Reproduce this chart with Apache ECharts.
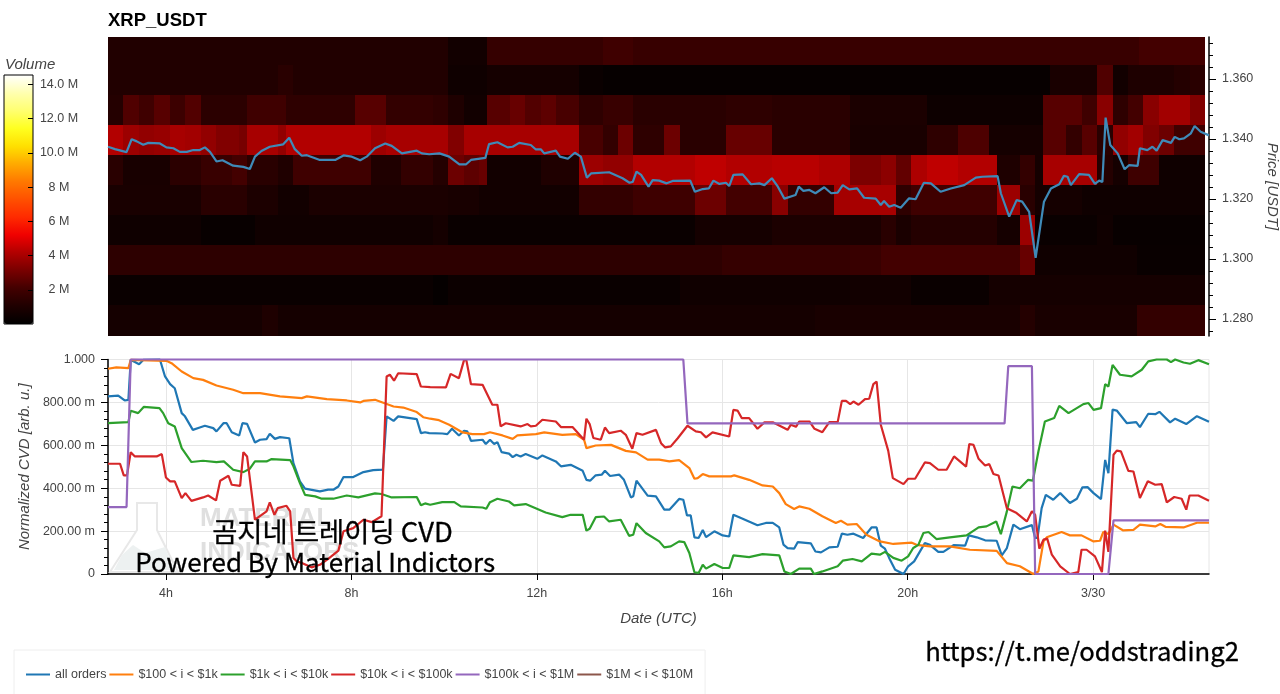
<!DOCTYPE html>
<html>
<head>
<meta charset="utf-8">
<title>XRP_USDT</title>
<script src="https://cdn.jsdelivr.net/npm/echarts@6/dist/echarts.min.js"></script>
<style>
html, body { margin: 0; padding: 0; background: #fff; }
#main { width: 1280px; height: 694px; }
</style>
</head>
<body>
<div id="main"></div>
<script>
// hours are counted from 00:00 UTC of 3/29, so 24 is the 3/30 tick
var hourTicks = [4, 8, 12, 16, 20, 24];
var priceTicks = [1.28, 1.30, 1.32, 1.34, 1.36];
var priceMinorTicks = [1.276, 1.284, 1.288, 1.292, 1.296, 1.304, 1.308, 1.312, 1.316, 1.324, 1.328, 1.332, 1.336, 1.344, 1.348, 1.352, 1.356, 1.364, 1.368, 1.372];
var volumeTicks = [2, 4, 6, 8, 10, 12, 14];
var volumeTickLabels = ['2 M', '4 M', '6 M', '8 M', '10.0 M', '12.0 M', '14.0 M'];
var volumePalette = ['#000000', '#1f0000', '#420000', '#780000', '#b00000', '#f00000', '#ff2a00', '#ff5000', '#ff7800', '#ffaa00', '#ffe000', '#ffff20', '#ffff70', '#ffffb0', '#ffffff'];

// bottom edge of each price band, lowest first
var priceBands = [1.2743, 1.2847, 1.2947, 1.3047, 1.3147, 1.3247, 1.3347, 1.3447, 1.3547, 1.3647];
var bandTop = 1.374;
var lastColumnEnd = 26.42;

// [start hour, volume in M] for each price band
var volBand0 = [[2.75,.7],[6.08,1],[6.42,.7],[18,.85],[22.42,1.2],[22.75,.85],[24.95,1.65]];
var volBand1 = [[2.75,.35],[9.75,.18],[10.08,.42],[11.42,.35],[15.08,.53],[18.75,.6],[20.08,.35],[21.75,.7]];
var volBand2 = [[2.75,1.45],[16,1.7],[18.75,1.8],[19.42,2.1],[22.42,2.8],[22.75,.55],[24.95,.3]];
var volBand3 = [[2.75,.5],[4.75,.27],[5.92,.55],[9.75,.7],[10.08,.35],[15.42,.7],[17.08,.95],[18.75,.9],[19.42,1.35],[19.75,.87],[20.08,1.2],[21.92,.7],[22.42,3.8],[22.75,.35],[24.08,.55],[24.42,.27]];
var volBand4 = [[2.75,.85],[4.75,1.35],[5.75,.95],[6.42,.6],[7.08,.9],[10.08,.8],[10.75,.6],[12.92,1.65],[14.08,1.98],[15.42,2.9],[16.08,2.1],[17.08,3.45],[17.42,1.65],[18.42,3.95],[18.75,4],[19.75,1.5],[20.08,2],[21.92,3.8],[22.42,1.35],[22.75,.7],[23.75,.5]];
var volBand5 = [[2.75,1.35],[3.08,.8],[4.08,1.4],[4.75,1.8],[5.42,2.1],[5.75,1.35],[6.42,1.05],[6.75,2],[8.42,1.05],[9.08,1.65],[9.75,1.2],[10.08,2.9],[10.42,2.6],[10.75,2.8],[10.92,.6],[12.08,1.05],[12.92,3.8],[13.42,3.6],[14.08,4.2],[15.42,4.4],[16.08,4.2],[17.08,4.3],[18.08,4.1],[18.75,3.2],[19.42,3.5],[19.75,2.7],[20.08,4.1],[20.42,4.4],[21.08,4.2],[21.92,1],[22.42,1.65],[22.75,.7],[22.92,4],[24.08,1.2],[24.42,.7],[24.75,1.98],[25.42,.5]];
var volBand6 = [[2.75,4.2],[3.08,3.8],[3.42,3.6],[3.75,3.7],[4.08,4],[4.42,3.9],[4.75,3.6],[5.08,3.3],[5.58,3.1],[5.75,4],[6.42,3.6],[6.58,4.2],[8.42,3.8],[8.75,4],[10.08,3.3],[10.42,4],[12,4],[12.92,2.2],[13.42,1.65],[13.75,2.9],[14.08,1.5],[14.75,2.9],[15.08,1.35],[16.08,2.8],[17.08,1.35],[18.75,.85],[20.42,1.5],[21.08,2.3],[21.75,.7],[22.92,2.5],[23.42,1.65],[23.75,2.5],[24.08,1.35],[24.42,3.6],[24.75,3.9],[25.08,3.3],[25.42,2.9],[25.75,2]];
var volBand7 = [[2.75,1.2],[3.08,2.35],[3.42,2],[3.75,2.5],[4.08,1.9],[4.42,2.4],[4.75,1.4],[5.75,2],[6.58,1.5],[8.08,2.5],[8.75,1.65],[9.75,1.5],[10.08,1],[10.42,.6],[10.92,2.5],[11.42,2.8],[11.75,2.4],[12.08,2.6],[12.42,2.2],[12.92,1.5],[13.42,1.8],[14.08,1.35],[16.08,1.5],[17.08,1.35],[18.75,.9],[20.42,.45],[22.92,2.5],[23.75,2],[24.08,3.45],[24.42,1.5],[24.75,2.1],[25.08,3.45],[25.42,3.9],[26.08,3.3]];
var volBand8 = [[2.75,1.1],[6.42,1.35],[6.75,1.1],[10.08,.5],[10.92,.7],[12.92,.35],[13.42,.2],[18.75,.25],[23.08,.85],[24.08,2.35],[24.42,.6],[24.75,1],[25.75,1.2],[26.08,1.35]];
var volBand9 = [[2.75,1.1],[10.08,.6],[10.92,1.7],[13.42,2],[14.08,1.75],[18.75,1.8],[25,2.1]];
var volBands = [volBand0, volBand1, volBand2, volBand3, volBand4, volBand5, volBand6, volBand7, volBand8, volBand9];

var priceLine = [[2.75,1.3374],[2.9,1.3366],[3.15,1.3356],[3.26,1.3399],[3.37,1.3392],[3.51,1.3381],[3.62,1.3387],[3.87,1.3385],[4.01,1.3372],[4.16,1.3369],[4.3,1.3357],[4.45,1.3357],[4.59,1.3363],[4.73,1.3363],[4.84,1.3372],[4.95,1.3357],[5.09,1.3325],[5.22,1.3329],[5.45,1.3311],[5.67,1.3307],[5.81,1.33],[5.92,1.3341],[6.06,1.336],[6.24,1.3374],[6.53,1.3382],[6.66,1.3404],[6.78,1.3366],[6.93,1.3344],[7.04,1.3346],[7.32,1.333],[7.65,1.333],[7.83,1.3345],[8.01,1.3341],[8.19,1.3329],[8.33,1.3341],[8.51,1.3369],[8.73,1.3385],[8.87,1.3377],[9.09,1.3352],[9.41,1.3361],[9.52,1.3352],[9.68,1.3349],[9.9,1.3352],[10.11,1.3341],[10.33,1.3315],[10.47,1.3315],[10.58,1.333],[10.89,1.3337],[10.97,1.3383],[11.15,1.3389],[11.37,1.3372],[11.48,1.3374],[11.62,1.3387],[11.87,1.338],[11.98,1.3365],[12.09,1.3365],[12.16,1.3352],[12.41,1.3361],[12.5,1.3341],[12.67,1.3334],[12.82,1.3354],[12.95,1.3341],[13.08,1.3271],[13.17,1.3285],[13.56,1.3289],[13.85,1.3269],[14,1.3254],[14.07,1.3257],[14.15,1.3291],[14.25,1.328],[14.41,1.3241],[14.5,1.3263],[14.64,1.3261],[14.8,1.3252],[14.93,1.326],[15.31,1.3261],[15.41,1.3224],[15.58,1.3233],[15.71,1.3235],[15.81,1.3261],[15.94,1.325],[16.08,1.3254],[16.15,1.3243],[16.24,1.328],[16.44,1.3282],[16.62,1.3249],[16.8,1.3252],[16.91,1.3246],[17.07,1.3269],[17.2,1.3241],[17.34,1.3201],[17.58,1.3213],[17.65,1.3241],[17.75,1.3227],[17.88,1.323],[18.01,1.3219],[18.2,1.3239],[18.35,1.3219],[18.49,1.3221],[18.6,1.3246],[18.74,1.3232],[18.91,1.3235],[19.06,1.3204],[19.31,1.3201],[19.42,1.318],[19.49,1.3193],[19.6,1.3174],[19.71,1.318],[19.85,1.3171],[20.03,1.3202],[20.17,1.3199],[20.35,1.3254],[20.5,1.3252],[20.71,1.3224],[20.93,1.3235],[21.22,1.3246],[21.47,1.3271],[21.61,1.3274],[21.94,1.3276],[22.01,1.3219],[22.19,1.3141],[22.35,1.3196],[22.47,1.3191],[22.62,1.3157],[22.76,1.3004],[22.94,1.3191],[23.09,1.3235],[23.27,1.3249],[23.37,1.3277],[23.45,1.3274],[23.52,1.3246],[23.7,1.3283],[23.91,1.328],[24.04,1.325],[24.13,1.3261],[24.2,1.3257],[24.27,1.3471],[24.37,1.338],[24.53,1.3352],[24.68,1.3299],[24.78,1.3313],[24.96,1.331],[25.01,1.3369],[25.17,1.3363],[25.28,1.3374],[25.37,1.3361],[25.5,1.3396],[25.68,1.3387],[25.76,1.3407],[25.86,1.3399],[25.96,1.3402],[26.11,1.3419],[26.19,1.3443],[26.32,1.3424],[26.5,1.3412]];

var allOrders = [[2.75,.828],[2.97,.832],[3.11,.809],[3.19,.812],[3.24,.998],[3.33,.988],[3.42,.978],[3.51,.998],[3.87,1],[3.98,.921],[4.09,.885],[4.19,.866],[4.34,.75],[4.41,.735],[4.58,.672],[4.73,.683],[4.84,.691],[5.02,.68],[5.09,.665],[5.24,.703],[5.31,.703],[5.42,.661],[5.58,.646],[5.65,.703],[5.75,.7],[5.92,.613],[6.03,.626],[6.17,.629],[6.24,.654],[6.35,.63],[6.46,.638],[6.66,.633],[6.75,.517],[6.89,.432],[7,.398],[7.32,.385],[7.5,.393],[7.61,.393],[7.72,.408],[7.83,.452],[8.04,.452],[8.26,.475],[8.47,.484],[8.68,.487],[8.76,.735],[8.91,.714],[9.01,.735],[9.41,.722],[9.5,.657],[9.59,.661],[9.68,.657],[9.96,.655],[10.07,.652],[10.17,.677],[10.32,.646],[10.43,.668],[10.5,.665],[10.58,.621],[10.83,.626],[10.9,.606],[10.99,.626],[11.08,.606],[11.15,.615],[11.24,.568],[11.4,.561],[11.48,.545],[11.56,.556],[11.65,.548],[11.76,.559],[12.01,.537],[12.12,.553],[12.41,.525],[12.52,.502],[12.73,.509],[12.99,.481],[13.07,.439],[13.15,.435],[13.27,.46],[13.4,.463],[13.47,.481],[13.58,.457],[13.78,.463],[13.88,.439],[14.03,.357],[14.08,.362],[14.15,.435],[14.39,.365],[14.57,.362],[14.75,.3],[14.86,.3],[15.07,.35],[15.16,.346],[15.24,.273],[15.32,.273],[15.4,.171],[15.49,.168],[15.58,.205],[15.65,.172],[15.83,.199],[16.01,.18],[16.15,.175],[16.24,.276],[16.44,.258],[16.76,.227],[16.94,.238],[17.09,.238],[17.23,.217],[17.32,.137],[17.41,.121],[17.55,.118],[17.63,.149],[17.91,.143],[18.01,.105],[18.13,.101],[18.31,.124],[18.49,.127],[18.58,.188],[18.7,.183],[18.83,.188],[19.04,.168],[19.22,.217],[19.33,.217],[19.42,.132],[19.51,.118],[19.6,.075],[19.73,.02],[19.91,0],[20.01,.036],[20.14,.059],[20.37,.144],[20.48,.136],[20.66,.103],[20.77,.103],[20.99,.135],[21.24,.132],[21.32,.18],[21.49,.171],[21.67,.157],[21.92,.155],[22.03,.087],[22.14,.121],[22.28,.23],[22.42,.209],[22.68,.228],[22.75,.168],[22.8,.168],[22.89,.307],[22.98,.369],[23.14,.346],[23.29,.377],[23.5,.331],[23.65,.351],[23.77,.404],[23.88,.405],[24.01,.377],[24.17,.349],[24.26,.532],[24.33,.47],[24.42,.766],[24.51,.762],[24.73,.703],[24.93,.708],[25.01,.685],[25.19,.747],[25.34,.745],[25.43,.756],[25.66,.707],[25.77,.724],[26.01,.699],[26.24,.736],[26.5,.71]];

var orders100to1k = [[2.75,.957],[2.93,.963],[3.19,.96],[3.24,.998],[4.01,.994],[4.12,.983],[4.34,.944],[4.59,.913],[4.8,.905],[5.09,.879],[5.45,.859],[5.67,.843],[6.03,.843],[6.46,.828],[6.93,.82],[7.04,.828],[7.47,.815],[7.9,.809],[8.19,.8],[8.26,.807],[8.51,.812],[8.91,.781],[9.12,.776],[9.41,.755],[9.55,.731],[9.7,.724],[9.89,.717],[10.11,.696],[10.4,.66],[10.61,.652],[10.86,.652],[10.99,.661],[11.26,.646],[11.48,.63],[11.58,.646],[11.98,.652],[12.16,.66],[12.55,.649],[12.84,.652],[13.02,.626],[13.07,.587],[13.27,.599],[13.6,.602],[13.92,.574],[14.14,.567],[14.39,.533],[14.64,.533],[14.86,.525],[15.07,.531],[15.29,.494],[15.4,.444],[15.47,.447],[15.58,.466],[15.72,.455],[16.19,.455],[16.26,.46],[16.58,.439],[16.87,.413],[17.09,.408],[17.23,.377],[17.37,.326],[17.55,.303],[17.66,.315],[17.88,.304],[18.16,.269],[18.45,.238],[18.56,.248],[18.7,.23],[18.9,.233],[19.11,.183],[19.4,.152],[19.69,.14],[20.09,.146],[20.19,.136],[20.48,.129],[20.91,.129],[21.34,.113],[21.92,.108],[22.14,.051],[22.42,.036],[22.71,0],[22.82,.012],[22.93,.152],[23,.171],[23.32,.196],[23.5,.18],[23.75,.18],[24.01,.152],[24.15,.155],[24.22,.196],[24.33,.186],[24.44,.23],[24.65,.203],[24.87,.206],[25.01,.23],[25.34,.222],[25.45,.233],[25.56,.22],[25.95,.217],[26.24,.239],[26.5,.239]];

var orders1kto10k = [[2.75,.703],[3.19,.708],[3.24,.761],[3.4,.75],[3.52,.779],[3.86,.773],[3.94,.75],[4.05,.703],[4.19,.688],[4.34,.587],[4.55,.522],[4.8,.528],[5.09,.522],[5.25,.525],[5.45,.486],[5.67,.475],[5.81,.491],[5.92,.525],[6.17,.525],[6.28,.536],[6.68,.531],[6.75,.502],[6.89,.424],[7,.369],[7.22,.362],[7.36,.351],[7.61,.351],[7.9,.366],[8.15,.357],[8.51,.376],[8.65,.373],[8.87,.357],[9.41,.359],[9.5,.32],[9.59,.329],[9.7,.323],[9.96,.335],[10.22,.335],[10.36,.315],[10.83,.31],[10.91,.304],[10.99,.335],[11.15,.351],[11.4,.338],[11.51,.32],[11.76,.326],[12.19,.287],[12.55,.265],[12.73,.276],[12.99,.276],[13.07,.202],[13.14,.211],[13.27,.265],[13.45,.268],[13.56,.245],[13.81,.253],[13.99,.178],[14.08,.183],[14.15,.237],[14.35,.191],[14.64,.152],[14.75,.124],[14.89,.129],[15.07,.152],[15.18,.149],[15.29,.098],[15.4,.008],[15.49,.005],[15.58,.043],[15.65,.025],[15.83,.047],[16.01,.028],[16.15,.028],[16.24,.087],[16.58,.079],[16.87,.093],[17.23,.087],[17.34,.012],[17.48,0],[17.66,.025],[17.91,.025],[17.98,0],[18.16,.012],[18.49,.036],[18.6,.062],[18.81,.07],[19.01,.059],[19.22,.095],[19.4,.09],[19.51,.103],[19.69,.075],[19.87,.062],[20.01,.082],[20.12,.121],[20.23,.136],[20.34,.191],[20.45,.196],[20.62,.163],[20.91,.171],[21.27,.18],[21.53,.217],[21.7,.222],[21.91,.245],[22.01,.186],[22.14,.292],[22.26,.408],[22.42,.4],[22.6,.439],[22.7,.435],[22.82,.571],[22.96,.711],[23.16,.727],[23.27,.784],[23.47,.75],[23.79,.792],[23.9,.797],[24.01,.765],[24.17,.773],[24.26,.885],[24.33,.874],[24.42,.975],[24.58,.929],[24.83,.921],[25.05,.952],[25.19,.991],[25.37,1],[25.59,1],[25.68,.988],[25.77,1],[25.95,.986],[26.09,.98],[26.27,.997],[26.5,.978]];

var orders10kto100k = [[2.75,.514],[3.01,.514],[3.09,.46],[3.16,.46],[3.24,.568],[3.33,.548],[3.8,.548],[3.91,.559],[4,.45],[4.09,.432],[4.19,.432],[4.34,.354],[4.42,.377],[4.55,.341],[4.8,.357],[4.91,.366],[5.08,.343],[5.17,.435],[5.35,.458],[5.42,.416],[5.6,.411],[5.67,.568],[5.75,.548],[5.92,.253],[6.17,.292],[6.24,.334],[6.34,.276],[6.41,.307],[6.6,.318],[6.68,.292],[6.75,.075],[6.82,.059],[6.93,.051],[7.14,.031],[7.32,.043],[7.5,.071],[7.72,.109],[7.83,.199],[8.04,.214],[8.26,.253],[8.44,.242],[8.65,.269],[8.76,.921],[8.83,.929],[8.92,.901],[9.01,.936],[9.41,.932],[9.5,.874],[9.7,.871],[10.04,.87],[10.14,.933],[10.32,.913],[10.43,.997],[10.48,.997],[10.58,.885],[10.83,.882],[11.04,.789],[11.15,.789],[11.22,.688],[11.33,.703],[11.65,.688],[11.8,.699],[11.87,.688],[11.98,.691],[12.12,.719],[12.41,.711],[12.52,.685],[12.77,.685],[13.02,.626],[13.07,.724],[13.14,.699],[13.22,.634],[13.38,.626],[13.47,.683],[13.56,.657],[13.81,.668],[13.92,.649],[14.06,.584],[14.15,.657],[14.28,.649],[14.57,.672],[14.68,.61],[14.77,.59],[14.89,.595],[15.04,.633],[15.25,.691],[15.43,.665],[15.54,.661],[15.65,.637],[15.79,.66],[16.15,.641],[16.24,.765],[16.33,.762],[16.42,.727],[16.58,.727],[16.76,.677],[16.91,.707],[17.09,.707],[17.41,.672],[17.48,.696],[17.59,.686],[17.66,.711],[17.88,.711],[17.99,.677],[18.16,.661],[18.31,.708],[18.49,.708],[18.58,.807],[18.67,.807],[18.76,.792],[18.83,.804],[18.94,.789],[19.08,.815],[19.17,.817],[19.26,.885],[19.33,.897],[19.42,.696],[19.58,.575],[19.68,.447],[19.91,.419],[20.01,.444],[20.16,.444],[20.37,.52],[20.48,.517],[20.66,.486],[20.84,.486],[21,.548],[21.26,.501],[21.33,.606],[21.42,.602],[21.53,.537],[21.67,.506],[21.76,.512],[21.85,.466],[21.96,.459],[22.14,.307],[22.35,.284],[22.57,.245],[22.68,.292],[22.75,.276],[22.84,.118],[22.93,.16],[23.01,.165],[23.11,.09],[23.29,.036],[23.5,0],[23.68,.009],[23.75,.113],[23.86,.113],[24.04,.082],[24.19,.009],[24.26,.202],[24.33,.103],[24.44,.556],[24.51,.575],[24.6,.572],[24.76,.481],[24.87,.478],[25.01,.354],[25.18,.432],[25.34,.416],[25.48,.419],[25.59,.334],[25.75,.359],[25.91,.351],[26.01,.3],[26.08,.366],[26.27,.366],[26.5,.342]];

var orders100kto1M = [[2.75,.312],[3.15,.312],[3.24,1],[15.16,1],[15.25,.702],[22.09,.702],[22.17,.969],[22.68,.969],[22.75,0],[24.33,0],[24.44,.25],[26.5,.25]];
var orders1Mto10M = [];

var seriesNames = ['all orders', '$100 < i < $1k', '$1k < i < $10k', '$10k < i < $100k', '$100k < i < $1M', '$1M < i < $10M'];
var seriesValues = [allOrders, orders100to1k, orders1kto10k, orders10kto100k, orders100kto1M, orders1Mto10M];
var seriesColors = ['#1f77b4', '#ff7f0e', '#2ca02c', '#d62728', '#9467bd', '#8c564b'];

var textFont = '"Liberation Sans", Helvetica, Arial, sans-serif';
var overlayFont = '"Noto Sans CJK KR", "Noto Sans", sans-serif';

// one cell per run: start, end, price low, price high, volume
var heatCells = [];
volBands.forEach(function (runs, b) {
    var high = b < priceBands.length - 1 ? priceBands[b + 1] : bandTop;
    runs.forEach(function (run, i) {
        var end = i < runs.length - 1 ? runs[i + 1][0] : lastColumnEnd;
        heatCells.push([run[0], end, priceBands[b], high, run[1]]);
    });
});

function renderCell(params, api) {
    var a = api.coord([api.value(0), api.value(3)]);
    var b = api.coord([api.value(1), api.value(2)]);
    return {
        type: 'rect',
        shape: {
            x: Math.round(a[0]),
            y: Math.round(a[1]),
            width: Math.round(b[0]) - Math.round(a[0]),
            height: Math.round(b[1]) - Math.round(a[1])
        },
        style: { fill: api.visual('color') }
    };
}

var lineSeries = seriesNames.map(function (name, i) {
    return {
        name: name,
        type: 'line',
        xAxisIndex: 1,
        yAxisIndex: 2,
        data: seriesValues[i],
        showSymbol: false,
        symbol: 'none',
        clip: false,
        z: 3,
        lineStyle: { color: seriesColors[i], width: 2.2 },
        itemStyle: { color: seriesColors[i] }
    };
});

var labelStyle = { color: '#444', fontSize: 12.5, fontFamily: textFont };
var axisNameStyle = { color: '#444', fontSize: 15, fontStyle: 'italic', fontFamily: textFont };

var option = {
    animation: false,
    backgroundColor: '#fff',
    title: [
        { text: 'XRP_USDT', left: 108, top: 11, padding: 0, textStyle: { fontSize: 18.5, fontWeight: 'bold', color: '#000', fontFamily: textFont } },
        { text: 'Volume', left: 5, top: 57, padding: 0, textStyle: { fontSize: 15, fontWeight: 'normal', fontStyle: 'italic', color: '#444', fontFamily: textFont } }
    ],
    grid: [
        { left: 108, top: 37, width: 1101, height: 299, outerBoundsMode: 'none' },
        { left: 108, top: 359.5, width: 1101, height: 214.5, show: true, borderColor: '#e6e6e6', borderWidth: 1, outerBoundsMode: 'none' },
        { left: 4, top: 75, width: 29, height: 249, show: true, borderColor: '#000', borderWidth: 1, backgroundColor: 'transparent', z: 5, outerBoundsMode: 'none' }
    ],
    xAxis: [
        { type: 'value', gridIndex: 0, min: 2.75, max: 26.5, show: false },
        {
            type: 'value', gridIndex: 1, min: 2.75, max: 26.5,
            name: 'Date (UTC)', nameLocation: 'middle', nameGap: 37, nameTextStyle: axisNameStyle,
            axisLine: { lineStyle: { color: '#000', width: 1.5 } },
            axisTick: { customValues: hourTicks, length: 6, lineStyle: { color: '#000' } },
            axisLabel: {
                customValues: hourTicks, margin: 13, color: '#444', fontSize: 12.5, fontFamily: textFont,
                formatter: function (v) { return v === 24 ? '3/30' : v + 'h'; }
            },
            splitLine: { show: true, lineStyle: { color: '#e6e6e6' } }
        },
        { type: 'value', gridIndex: 2, min: 0, max: 1, show: false }
    ],
    yAxis: [
        {
            type: 'value', gridIndex: 0, position: 'right', min: 1.2743, max: 1.374,
            name: 'Price [USDT]', nameLocation: 'middle', nameRotate: -90, nameGap: 54, nameTextStyle: axisNameStyle,
            axisLine: { show: true, lineStyle: { color: '#000', width: 1.5 } },
            axisTick: { show: true, customValues: priceTicks, length: 7, lineStyle: { color: '#000' } },
            axisLabel: Object.assign({ customValues: priceTicks, margin: 13, formatter: function (v) { return v.toFixed(3); } }, labelStyle),
            splitLine: { show: false }
        },
        {
            type: 'value', gridIndex: 0, position: 'right', min: 1.2743, max: 1.374,
            axisLine: { show: false },
            axisTick: { show: true, customValues: priceMinorTicks, length: 4, lineStyle: { color: '#000' } },
            axisLabel: { show: false },
            splitLine: { show: false }
        },
        {
            type: 'value', gridIndex: 1, min: 0, max: 1, interval: 0.2,
            name: 'Normalized CVD [arb. u.]', nameLocation: 'middle', nameRotate: 90, nameGap: 74, nameTextStyle: axisNameStyle,
            axisLine: { show: true, lineStyle: { color: '#000', width: 1.5 } },
            axisTick: { show: true, length: 7, lineStyle: { color: '#000' } },
            minorTick: { show: true, splitNumber: 5, length: 4, lineStyle: { color: '#000' } },
            axisLabel: Object.assign({
                margin: 13,
                formatter: function (v) {
                    if (v === 0) return '0';
                    if (v === 1) return '1.000';
                    return (v * 1000).toFixed(2) + ' m';
                }
            }, labelStyle),
            splitLine: { show: true, lineStyle: { color: '#e6e6e6' } }
        },
        {
            type: 'value', gridIndex: 2, position: 'right', min: 0.01, max: 14.55,
            axisLine: { show: false },
            axisTick: { show: false },
            axisLabel: Object.assign({
                customValues: volumeTicks, margin: 26, align: 'center',
                formatter: function (v) { return volumeTickLabels[volumeTicks.indexOf(v)]; }
            }, labelStyle),
            splitLine: { show: false }
        },
        {
            // left axis pulled to the bar's right edge so its ticks point into the bar
            type: 'value', gridIndex: 2, position: 'left', offset: -29, min: 0.01, max: 14.55, z: 6,
            axisLine: { show: false },
            axisTick: { show: true, customValues: volumeTicks, length: 5, lineStyle: { color: '#000' } },
            axisLabel: { show: false },
            splitLine: { show: false }
        }
    ],
    visualMap: {
        type: 'continuous',
        seriesIndex: 0,
        dimension: 4,
        min: 0.01,
        max: 14.55,
        calculable: false,
        realtime: false,
        hoverLink: false,
        text: ['', ''],
        left: 4,
        top: 75,
        padding: 0,
        itemWidth: 29,
        itemHeight: 249,
        inRange: { color: volumePalette },
        z: 1
    },
    legend: {
        data: seriesNames,
        left: 14,
        top: 650,
        padding: [18, 12, 30, 12],
        orient: 'horizontal',
        itemGap: 3,
        itemWidth: 24,
        itemHeight: 2,
        icon: 'rect',
        borderColor: '#eee',
        borderWidth: 1,
        textStyle: { color: '#444', fontSize: 12.5, fontFamily: textFont }
    },
    graphic: [
        { type: 'polygon', z: 1, silent: true, shape: { points: [[137, 503], [157, 503], [157, 530], [178, 572], [110, 572], [137, 530]] }, style: { fill: '#fff', stroke: '#e8e8e8', lineWidth: 2 } },
        { type: 'polygon', z: 1, silent: true, shape: { points: [[122, 555], [133, 545], [145, 553], [165, 547], [174, 570], [114, 570]] }, style: { fill: '#edf1f1' } },
        { type: 'text', z: 1, silent: true, left: 200, top: 506, style: { text: 'MATERIAL', fill: '#dfdfdf', fontSize: 26, fontWeight: 'bold', fontFamily: textFont } },
        { type: 'text', z: 1, silent: true, left: 200, top: 540, style: { text: 'INDICATORS', fill: '#dfdfdf', fontSize: 26, fontWeight: 'bold', fontFamily: textFont } },
        { type: 'text', z: 100, silent: true, left: 212, top: 518, style: { text: '곰지네 트레이딩 CVD', fill: '#000', stroke: '#000', lineWidth: 0.3, fontSize: 27.4, fontFamily: overlayFont } },
        { type: 'text', z: 100, silent: true, left: 135, top: 549, style: { text: 'Powered By Material Indictors', fill: '#000', stroke: '#000', lineWidth: 0.3, fontSize: 26, fontFamily: overlayFont } },
        { type: 'text', z: 100, silent: true, left: 925, top: 638, style: { text: 'https://t.me/oddstrading2', fill: '#000', stroke: '#000', lineWidth: 0.3, fontSize: 25.7, fontFamily: overlayFont } }
    ],
    series: [
        {
            type: 'custom',
            xAxisIndex: 0,
            yAxisIndex: 0,
            data: heatCells,
            encode: { x: [0, 1], y: [2, 3] },
            renderItem: renderCell,
            z: 1
        },
        {
            name: 'Price',
            type: 'line',
            xAxisIndex: 0,
            yAxisIndex: 0,
            data: priceLine,
            showSymbol: false,
            symbol: 'none',
            clip: false,
            z: 3,
            lineStyle: { color: '#3f8ab8', width: 2.2 }
        }
    ].concat(lineSeries)
};

var myChart = echarts.init(document.getElementById('main'));
myChart.setOption(option);
</script>
</body>
</html>
